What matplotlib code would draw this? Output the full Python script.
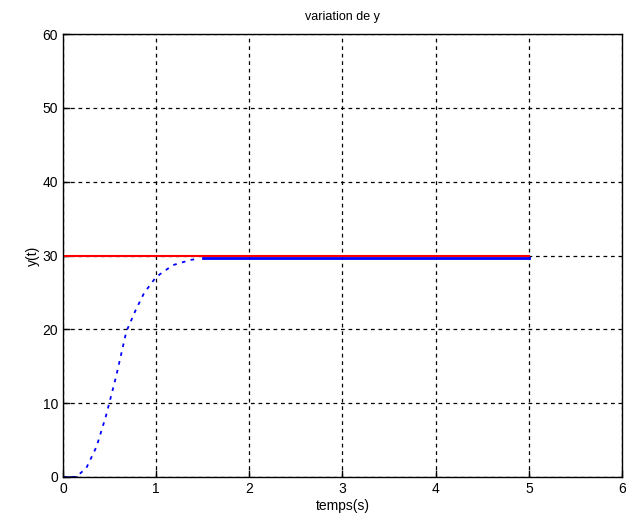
import numpy as np
import matplotlib.pyplot as plt

# consigne (reference) and system response
t_ref = [0, 5]
y_ref = [30, 30]

t_rise = [0, 0.14, 0.25, 0.36, 0.46, 0.57, 0.68, 0.78, 0.87, 1.0, 1.18, 1.37, 1.42]
y_rise = [0, 0, 1.2, 4.1, 8.2, 13.6, 19.7, 22.6, 24.9, 27.1, 28.7, 29.4, 29.5]

t_steady = [1.5, 5]
y_steady = [29.6, 29.6]

xticks = [0, 1, 2, 3, 4, 5, 6]
yticks = [0, 10, 20, 30, 40, 50, 60]

plt.rcParams['font.family'] = ['Liberation Sans', 'DejaVu Sans']

fig = plt.figure(figsize=(6.26, 5.29), dpi=100)
ax = fig.add_axes([0.1006, 0.0983, 0.893, 0.8374])

ax.plot(t_ref, y_ref, color='red', linewidth=1.5)
ax.plot(t_rise, y_rise, color='blue', linewidth=1.3, linestyle=(0, (2, 3)))
ax.plot(t_rise[:2], y_rise[:2], color='#000080', linewidth=1.8)
ax.plot(t_steady, y_steady, color='blue', linewidth=2)

ax.set_xlim(0, 6)
ax.set_ylim(0, 60)
ax.set_xticks(xticks)
ax.set_yticks(yticks)
ax.tick_params(direction='in', labelsize=10, length=5, width=1)
ax.grid(True, color='black', linestyle=(0, (3, 3)), linewidth=0.9)

for sp in ax.spines.values():
    sp.set_linewidth(1)

ax.set_title('variation de y', fontsize=9, pad=10)
ax.set_xlabel('temps(s)', fontsize=10, labelpad=2)
ax.set_ylabel('y(t)', fontsize=10, labelpad=2)

fig.savefig('out.png', dpi=100)
